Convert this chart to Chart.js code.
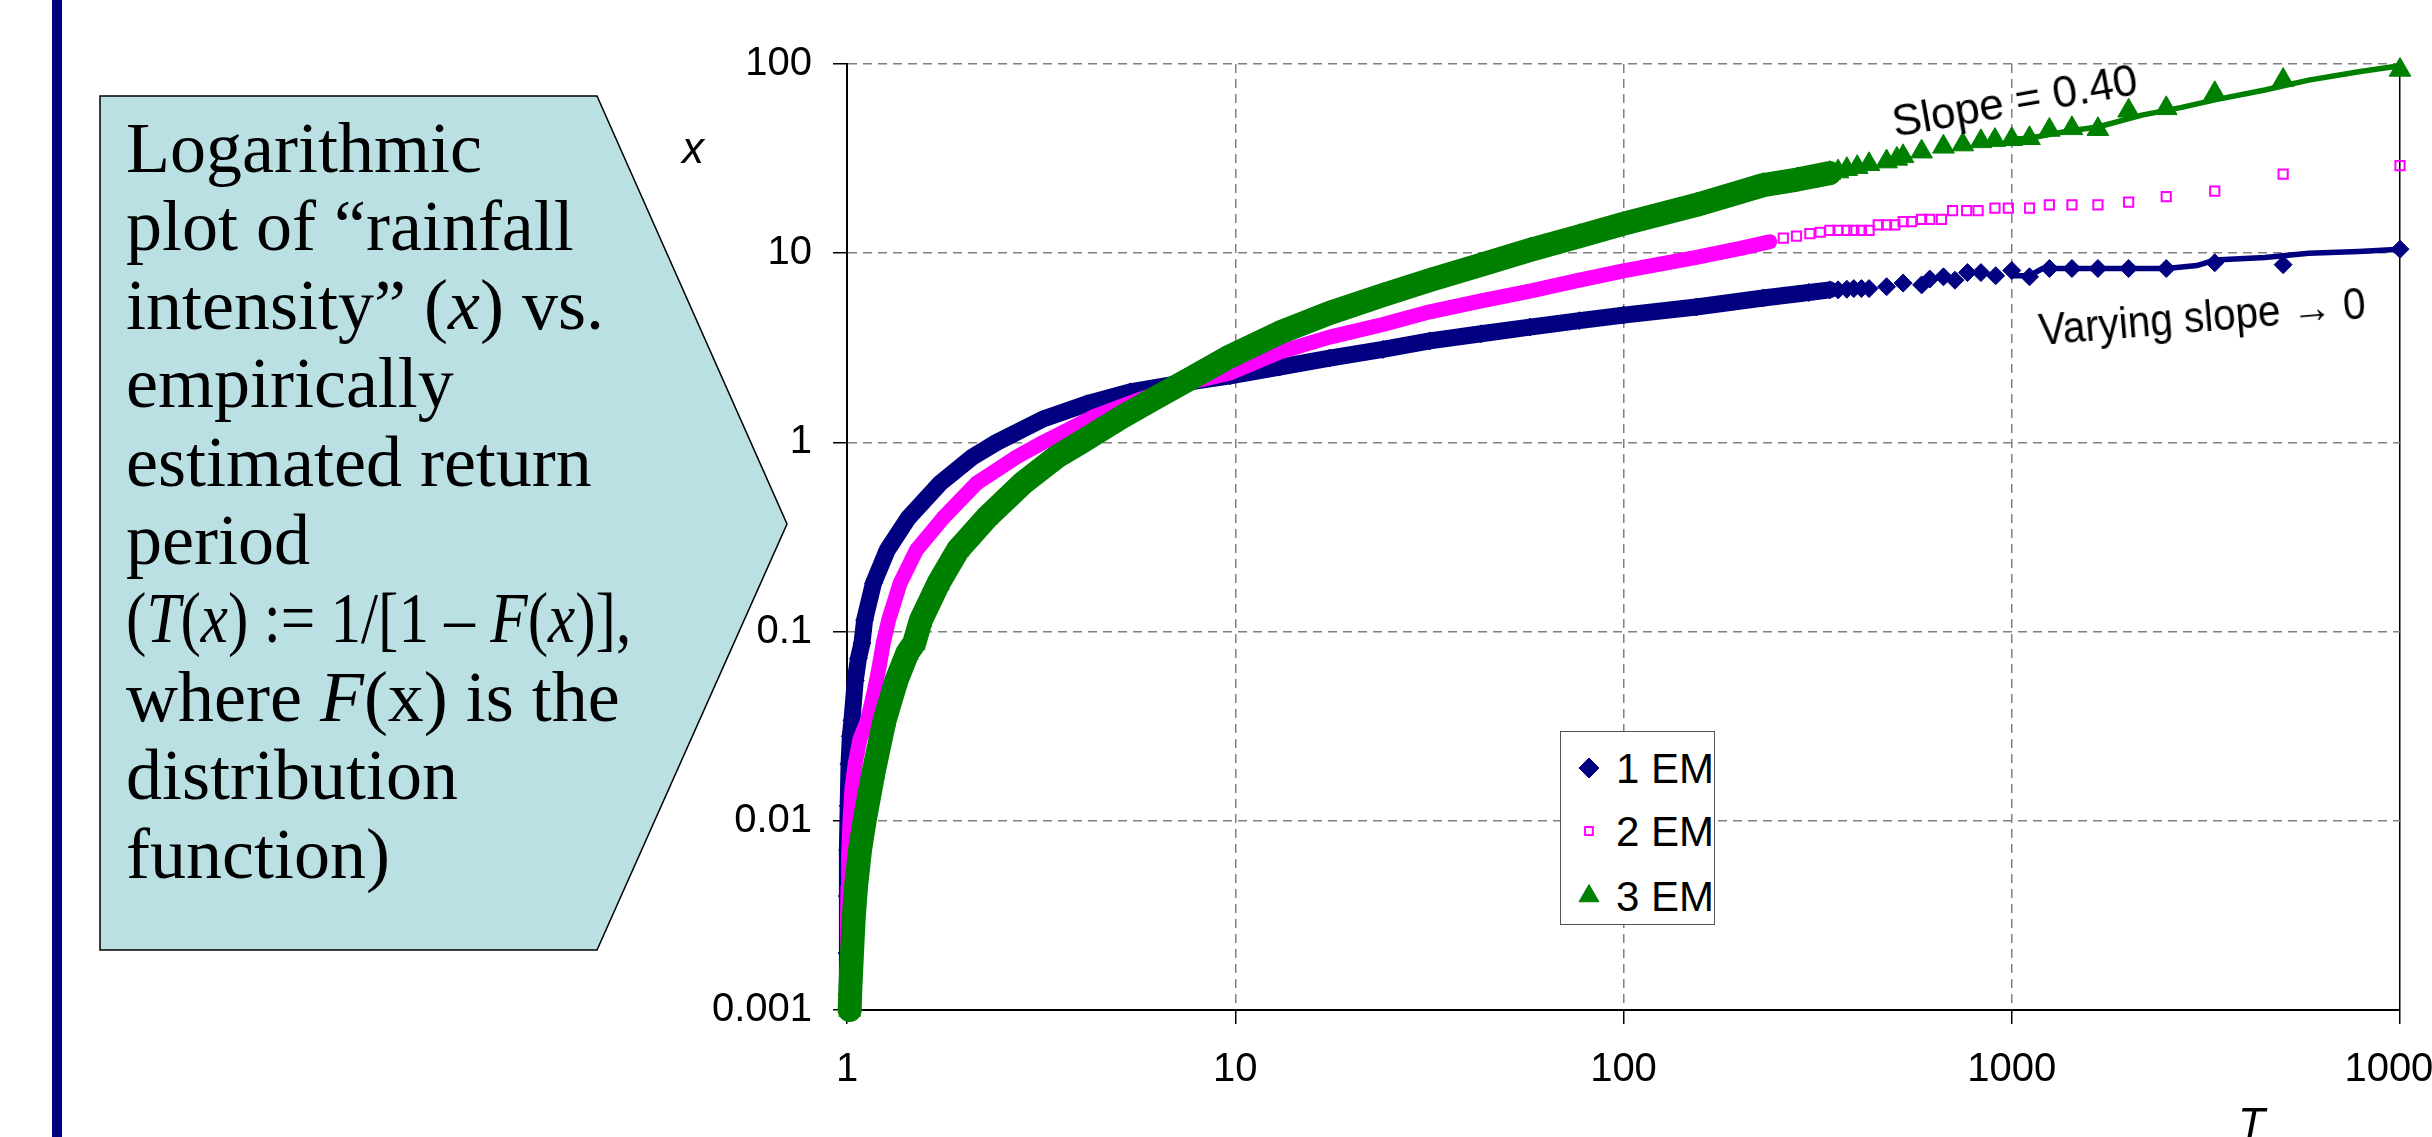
<!DOCTYPE html>
<html>
<head>
<meta charset="utf-8">
<script src="https://cdn.jsdelivr.net/npm/chart.js@4.4.1/dist/chart.umd.min.js"></script>
<style>
html, body { margin:0; padding:0; width:2432px; height:1137px; overflow:hidden; background:#fff; }
#barra { position:absolute; left:52px; top:0; width:10px; height:1137px; background:#000080; }
#balao { position:absolute; left:0; top:0; }
#textoBalao { position:absolute; left:126px; top:109px; font-family:'Liberation Serif', serif; font-size:72px; line-height:78.4px; color:#000; white-space:nowrap; }
#textoBalao .aperta { display:inline-block; transform-origin:0 50%; transform:scaleX(0.85); }
#grafico-wrap { position:absolute; left:600px; top:0; width:1900px; height:1137px; }
.rot { position:absolute; font-family:'Liberation Sans', Arial, sans-serif; white-space:nowrap; line-height:1; color:#000; }
#legenda { position:absolute; left:1560px; top:731px; width:153px; height:192px; border:1.5px solid #555; background:#fff; z-index:5; }
.item { position:absolute; left:0; height:50px; width:153px; }
.item canvas { position:absolute; left:4px; top:0; }
.item span { position:absolute; left:55px; top:5px; font-family:'Liberation Sans', Arial, sans-serif; font-size:42px; line-height:1; white-space:nowrap; }
</style>
</head>
<body>
<div id="barra"></div>
<svg id="balao" width="2432" height="1137">
  <polygon points="100,96 597,96 787,524 597,950 100,950" fill="#bae0e4" stroke="#000" stroke-width="1.5"/>
</svg>
<div id="textoBalao">Logarithmic<br>plot of “rainfall<br>intensity” (<i>x</i>) vs.<br>empirically<br>estimated return<br>period<br><span class="aperta">(<i>T</i>(<i>x</i>) := 1/[1 – <i>F</i>(<i>x</i>)],</span><br>where <i>F</i>(x) is the<br>distribution<br>function)</div>

<div id="grafico-wrap"><canvas id="grafico" width="1900" height="1137"></canvas></div>

<div class="rot" style="left:682px; top:126px; font-size:44px; font-style:italic;">x</div>
<div class="rot" style="left:2238px; top:1102px; font-size:44px; font-style:italic;">T</div>
<div class="rot" style="left:1895px; top:100px; font-size:44px; transform-origin:0 37px; transform:rotate(-10deg);">Slope = 0.40</div>
<div class="rot" style="left:2040px; top:308px; font-size:44px; transform-origin:0 37px; transform:rotate(-4.7deg) scaleX(0.92);">Varying slope → 0</div>

<div id="legenda"></div>

<script>
// eixos
const xTicks = [1, 10, 100, 1000, 10000];
const xTickLabels = ['1', '10', '100', '1000', '10000'];
const yTicks = [0.001, 0.01, 0.1, 1, 10, 100];
const yTickLabels = ['0.001', '0.01', '0.1', '1', '10', '100'];
const seriesNames = ['1 EM', '2 EM', '3 EM'];

// 1 EM (losangos azuis) - T e x
const t1 = [1.0005, 1.001, 1.002, 1.004, 1.007, 1.012, 1.02, 1.03, 1.05, 1.07, 1.093, 1.11, 1.17, 1.27, 1.44, 1.74, 2.11, 2.43, 3.2, 4.15, 5.36, 7.2, 9.7, 13, 17.5, 24, 31.7, 43, 57.4, 77, 100, 154, 229, 300, 340, 357, 376, 392, 410, 429, 476, 525, 586, 615, 667, 714, 769, 833, 909, 1000, 1111, 1250, 1429, 1667, 2000, 2500, 3333, 5000, 10000];
const x1 = [0.0012, 0.002, 0.004, 0.007, 0.012, 0.02, 0.028, 0.034, 0.055, 0.072, 0.087, 0.115, 0.18, 0.27, 0.40, 0.61, 0.84, 1.0, 1.33, 1.6, 1.85, 2.05, 2.25, 2.5, 2.79, 3.1, 3.44, 3.75, 4.07, 4.4, 4.71, 5.2, 5.8, 6.2, 6.4, 6.4, 6.45, 6.5, 6.5, 6.5, 6.65, 6.95, 6.8, 7.3, 7.5, 7.2, 7.9, 7.9, 7.6, 8.1, 7.5, 8.3, 8.3, 8.3, 8.3, 8.3, 8.9, 8.7, 10.5];

// 2 EM (quadrados rosa)
const t2 = [1.001, 1.002, 1.003, 1.006, 1.01, 1.018, 1.03, 1.05, 1.08, 1.13, 1.18, 1.21, 1.24, 1.28, 1.37, 1.51, 1.77, 2.16, 2.74, 3.2, 4.3, 5.6, 7.5, 9.7, 13, 17.5, 24, 31.7, 43, 57.4, 77, 100, 154, 200, 238, 258, 279, 302, 321, 340, 357, 376, 392, 410, 429, 453, 476, 500, 525, 552, 586, 615, 659, 704, 765, 819, 905, 980, 1111, 1250, 1429, 1667, 2000, 2500, 3333, 5000, 10000];
const x2 = [0.0015, 0.002, 0.003, 0.0045, 0.0065, 0.01, 0.015, 0.02, 0.027, 0.034, 0.05, 0.065, 0.087, 0.115, 0.18, 0.27, 0.40, 0.61, 0.84, 1.0, 1.36, 1.67, 2.06, 2.33, 3.0, 3.6, 4.2, 4.9, 5.6, 6.3, 7.2, 8.06, 9.5, 10.6, 11.5, 12.0, 12.3, 12.7, 12.9, 13.2, 13.2, 13.2, 13.2, 13.2, 13.2, 14.1, 14.1, 14.1, 14.7, 14.7, 15.1, 15.1, 15.1, 16.8, 16.8, 16.8, 17.3, 17.3, 17.3, 18.0, 18.0, 18.0, 18.6, 19.9, 21.3, 26.2, 29.0];

// 3 EM (triangulos verdes)
const t3 = [1.016, 1.02, 1.03, 1.04, 1.055, 1.08, 1.11, 1.17, 1.25, 1.34, 1.43, 1.49, 1.55, 1.72, 1.93, 2.29, 2.84, 3.47, 4.0, 5.1, 6.3, 7.8, 9.7, 13, 17.5, 24, 31.7, 43, 57.4, 77, 100, 154, 229, 280, 340, 357, 376, 400, 429, 476, 506, 525, 586, 667, 748, 833, 905, 1000, 1111, 1250, 1429, 1667, 2000, 2500, 3333, 5000, 10000];
const x3 = [0.001, 0.0013, 0.002, 0.003, 0.0045, 0.007, 0.01, 0.018, 0.034, 0.055, 0.077, 0.087, 0.115, 0.18, 0.27, 0.40, 0.61, 0.84, 1.0, 1.36, 1.74, 2.22, 2.85, 3.8, 4.83, 6.0, 7.2, 8.7, 10.4, 12.3, 14.3, 18.0, 22.9, 24.5, 26.5, 27.0, 27.8, 28.5, 29.5, 30.5, 31.5, 32.5, 34.4, 36.5, 37.5, 39.0, 39.6, 40.0, 40.5, 44.8, 45.7, 45.2, 56.6, 58.3, 70.0, 82.2, 93.0];

// linhas continuas na cauda
const lineT1 = [1000, 1111, 1200, 2500, 3000, 3333, 4487, 5820, 7830, 10000];
const lineX1 = [7.6, 7.6, 8.3, 8.3, 8.6, 9.2, 9.5, 9.98, 10.2, 10.5];
const lineT3 = [1000, 1111, 1370, 1676, 2163, 2740, 3333, 4487, 5820, 7830, 10000];
const lineX3 = [40.0, 40.5, 43.9, 46.6, 53.7, 59.0, 64.6, 72.9, 82.2, 91.0, 98.0];

const azul = '#000080';
const rosa = '#ff00ff';
const verde = '#008000';
const fonte = "'Liberation Sans', Arial, sans-serif";

function pontos(ts, xs) {
  return ts.map((t, i) => ({ x: t, y: xs[i] }));
}

// faixa grossa onde os marcadores se sobrepoem
function faixa(cor, fim) {
  return function(c) {
    return c.p1.parsed.x <= fim ? cor : 'rgba(0,0,0,0)';
  };
}

const datasets = [
  { label: seriesNames[0], data: pontos(t1, x1), showLine: true, borderColor: azul, borderWidth: 17,
    segment: { borderColor: faixa(azul, 340) }, borderJoinStyle: 'round', borderCapStyle: 'round',
    pointStyle: 'rectRot', pointRadius: 9, pointBackgroundColor: azul, pointBorderColor: azul, pointBorderWidth: 1,
    order: 4, clip: false, naLegenda: true },
  { label: seriesNames[1], data: pontos(t2, x2), showLine: true, borderColor: rosa, borderWidth: 15,
    segment: { borderColor: faixa(rosa, 240) }, borderJoinStyle: 'round', borderCapStyle: 'round',
    pointStyle: 'rect', pointRadius: 6.5, pointBackgroundColor: 'rgba(0,0,0,0)', pointBorderColor: rosa, pointBorderWidth: 2,
    order: 3, clip: false, naLegenda: true },
  { label: seriesNames[2], data: pontos(t3, x3), showLine: true, borderColor: verde, borderWidth: 24,
    segment: { borderColor: faixa(verde, 340) }, borderJoinStyle: 'round', borderCapStyle: 'round',
    pointStyle: 'triangle', pointRadius: 12.5, pointBackgroundColor: verde, pointBorderColor: verde, pointBorderWidth: 1,
    order: 1, clip: false, naLegenda: true },
  { label: 'linha 1', data: pontos(lineT1, lineX1), showLine: true, borderColor: azul, borderWidth: 5.5,
    pointRadius: 0, order: 5, clip: false },
  { label: 'linha 3', data: pontos(lineT3, lineX3), showLine: true, borderColor: verde, borderWidth: 5.5,
    pointRadius: 0, order: 2, clip: false }
];

function tracejado(valorFim) {
  return function(c) {
    return c.tick && c.tick.value === valorFim ? [] : [9, 6];
  };
}
function corGrade(valorFim) {
  return function(c) {
    return c.tick && c.tick.value === valorFim ? '#000' : '#808080';
  };
}

const ctx = document.getElementById('grafico');
new Chart(ctx, {
  type: 'scatter',
  data: { datasets: datasets },
  options: {
    responsive: false,
    maintainAspectRatio: false,
    devicePixelRatio: 1,
    animation: false,
    events: [],
    // area do grafico: x 847..2400, y 64..1010 na pagina
    layout: { padding: { left: 0, right: 100, top: 64, bottom: 0 } },
    plugins: { legend: { display: false }, tooltip: { enabled: false } },
    scales: {
      x: {
        type: 'logarithmic', min: 1, max: 10000,
        afterFit: function(s) { s.height = 127; },
        afterBuildTicks: function(s) { s.ticks = xTicks.map(v => ({ value: v })); },
        ticks: { callback: (v, i) => xTickLabels[i], color: '#000', font: { family: fonte, size: 40 }, padding: 22, maxRotation: 0, autoSkip: false },
        grid: { color: corGrade(10000), lineWidth: 1.5, tickLength: 14, tickColor: '#000', tickWidth: 1.5 },
        border: { display: true, color: '#000', width: 2, dash: tracejado(10000) }
      },
      y: {
        type: 'logarithmic', min: 0.001, max: 100,
        afterFit: function(s) { s.width = 247; },
        afterBuildTicks: function(s) { s.ticks = yTicks.map(v => ({ value: v })); },
        ticks: { callback: (v, i) => yTickLabels[i], color: '#000', font: { family: fonte, size: 40 }, padding: 21, autoSkip: false },
        grid: { color: '#808080', lineWidth: 1.5, tickLength: 14, tickColor: '#000', tickWidth: 1.5 },
        border: { display: true, color: '#000', width: 2, dash: [9, 6] }
      }
    }
  }
});

// legenda em html com os mesmos marcadores
const legenda = document.getElementById('legenda');
const topos = [36, 99, 164];
datasets.filter(d => d.naLegenda).forEach(function(d, i) {
  const item = document.createElement('div');
  item.className = 'item';
  item.style.top = (topos[i] - 25) + 'px';
  const cv = document.createElement('canvas');
  cv.width = 50; cv.height = 50;
  const c2 = cv.getContext('2d');
  c2.fillStyle = d.pointBackgroundColor;
  c2.strokeStyle = d.pointBorderColor;
  c2.lineWidth = d.pointBorderWidth;
  const raio = d.pointStyle === 'triangle' ? 11.5 : (d.pointStyle === 'rect' ? 5.5 : 10);
  Chart.helpers.drawPoint(c2, { pointStyle: d.pointStyle, radius: raio, borderWidth: d.pointBorderWidth, rotation: 0 }, 24, 25);
  const txt = document.createElement('span');
  txt.textContent = d.label;
  item.appendChild(cv);
  item.appendChild(txt);
  legenda.appendChild(item);
});
</script>
</body>
</html>
